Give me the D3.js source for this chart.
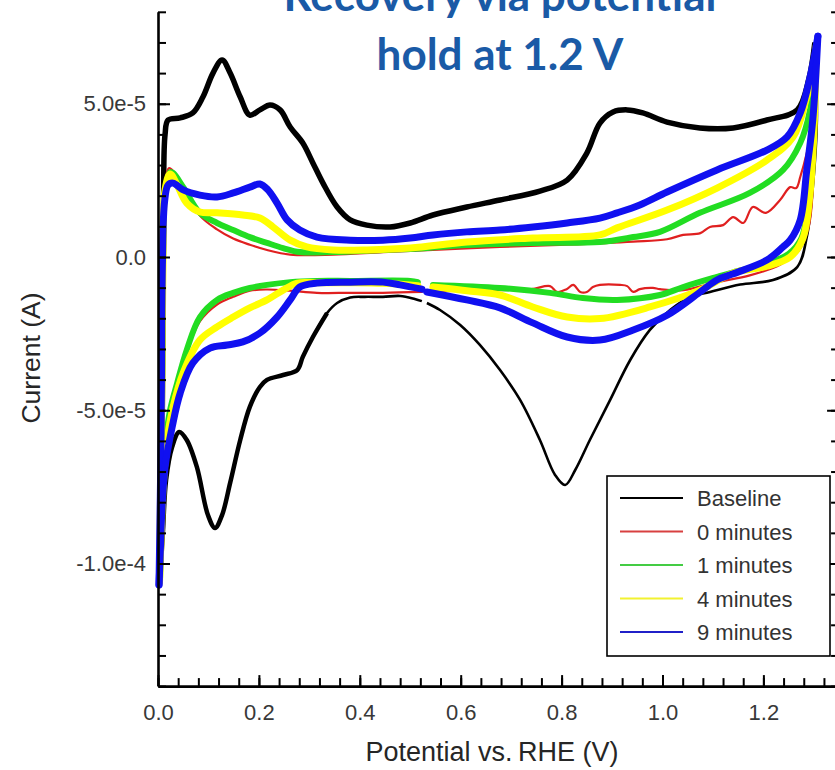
<!DOCTYPE html>
<html>
<head>
<meta charset="utf-8">
<script src="https://cdn.jsdelivr.net/npm/d3@7"></script>
<style>
  html, body { margin: 0; padding: 0; background: #fff; }
  svg { display: block; }
</style>
</head>
<body>
<svg id="chart" width="835" height="770"></svg>
<script>
// Cyclic voltammograms: potential (V vs. RHE) and current (µA).
// Each scan is stored as its anodic (forward) and cathodic (return) branch.
// A null current marks a break in the recorded trace.

const baselineAnodic = [
  [0.006,-100],[0.009,-40],[0.011,20],[0.014,40],[0.020,44.7],[0.044,45.4],[0.069,47.0],
  [0.089,52.2],[0.109,60.0],[0.127,64.3],[0.143,60.0],[0.163,52.2],[0.182,46.3],[0.202,48.0],
  [0.222,49.6],[0.242,48.0],[0.262,42.4],[0.287,37.2],[0.307,30.7],[0.327,24.1],[0.355,16.3],
  [0.381,12.1],[0.414,10.4],[0.460,9.8],[0.500,11.1],[0.545,13.7],[0.612,16.3],[0.678,18.6],
  [0.757,21.5],[0.811,25.1],[0.850,33.9],[0.876,43.7],[0.902,47.3],[0.930,48.0],[0.961,47.0],
  [1.009,44.0],[1.074,42.1],[1.140,42.1],[1.207,44.7],[1.267,48.0],[1.290,58],[1.302,70]
];
const baselineCathodic = [
  [1.302,70],[1.306,44.7],[1.298,22.8],[1.286,6.5],[1.267,-3.3],[1.219,-7.5],[1.154,-9.0],
  [1.094,-11.4],[1.055,-13.0],[1.015,-17.3],[0.975,-23.8],[0.936,-33.6],[0.896,-46.7],
  [0.856,-59.7],[0.827,-69.5],[0.807,-74.4],[0.787,-71.1],[0.757,-59.7],[0.718,-46.7],
  [0.678,-36.9],[0.638,-28.7],[0.599,-22.2],[0.559,-17.3],[0.533,-15.0],[0.528,null],
  [0.523,-14.4],[0.509,-13.7],[0.480,-12.7],[0.446,-13.0],[0.410,-13.0],[0.381,-13.2],
  [0.355,-15.0],[0.335,-18.3],[0.307,-26.1],[0.287,-32.6],[0.276,-36.9],[0.248,-38.5],
  [0.216,-40.1],[0.202,-42.4],[0.182,-48.9],[0.163,-59.7],[0.143,-73.7],[0.127,-84.2],
  [0.113,-88.4],[0.099,-84.2],[0.077,-68.5],[0.057,-59.7],[0.042,-57.1],[0.028,-62.0],
  [0.016,-72.8],[0.010,-89],[0.006,-100]
];

const min0Anodic = [
  [0.004,-107],[0.008,-40],[0.010,0],[0.014,24],[0.022,29],[0.040,26],[0.057,21],[0.083,13.5],
  [0.117,9.0],[0.149,6.0],[0.182,4.0],[0.216,2.3],[0.262,0.8],[0.347,0.8],[0.446,1.6],
  [0.545,2.3],[0.678,3.3],[0.811,4.0],[0.942,5.0],[1.009,5.8],[1.041,7.2],[1.075,7.8],
  [1.094,9.8],[1.120,10.4],[1.140,13.0],[1.160,11.1],[1.179,16.3],[1.205,14.4],[1.233,18.6],
  [1.253,22.8],[1.265,22.5],[1.273,26.1],[1.286,33.9],[1.296,42.4],[1.304,62]
];
const min0Cathodic = [
  [1.304,62],[1.300,30],[1.290,10],[1.270,2],[1.233,-2.5],[1.173,-6.0],[1.108,-8.2],
  [1.041,-10.8],[0.995,-10.5],[0.981,-10.1],[0.955,-10.5],[0.942,-11.4],[0.930,-9.5],
  [0.916,-9.1],[0.876,-9.1],[0.862,-9.8],[0.850,-11.4],[0.837,-11.4],[0.823,-9.1],
  [0.810,-10.5],[0.791,-11.4],[0.777,-9.5],[0.740,-10.5],[0.678,-10.8],[0.600,-11.0],
  [0.533,-11.4],[0.528,null],[0.523,-11.4],[0.446,-11.7],[0.381,-11.7],[0.315,-11.7],
  [0.262,-11.0],[0.216,-10.6],[0.182,-11.0],[0.149,-13.0],[0.117,-15.5],[0.083,-21],
  [0.057,-31],[0.038,-42],[0.024,-51],[0.014,-62],[0.008,-80],[0.004,-107]
];

const min1Anodic = [
  [0.004,-105],[0.008,-40],[0.010,0],[0.014,22],[0.024,27.7],[0.030,27.4],[0.050,22.8],
  [0.083,14.4],[0.117,11.1],[0.149,8.8],[0.182,6.5],[0.216,4.6],[0.248,2.9],[0.281,1.6],
  [0.347,1.6],[0.446,2.3],[0.500,2.6],[0.612,3.9],[0.743,4.6],[0.876,4.9],[0.942,6.5],
  [0.995,8.2],[1.074,14.4],[1.173,20.9],[1.239,28.4],[1.273,37.2],[1.292,47.6],[1.304,66]
];
const min1Cathodic = [
  [1.304,66],[1.299,38],[1.290,18],[1.275,6],[1.250,1],[1.200,-2.5],[1.140,-5],[1.108,-6.5],
  [1.041,-9.8],[0.995,-12.4],[0.910,-14.0],[0.842,-13.4],[0.777,-11.7],[0.678,-10.1],
  [0.545,-9.1],[0.528,null],[0.515,-8.2],[0.500,-7.8],[0.381,-7.8],[0.315,-7.8],[0.262,-8.2],
  [0.216,-9.1],[0.182,-10.1],[0.149,-11.7],[0.117,-14.0],[0.083,-19.6],[0.057,-30.3],
  [0.038,-41.1],[0.024,-49.9],[0.014,-62],[0.008,-80],[0.004,-105]
];

const min4Anodic = [
  [0.003,-106],[0.007,-50],[0.010,0],[0.014,22],[0.024,27.1],[0.038,23.5],[0.057,17.6],
  [0.083,14.7],[0.117,14.4],[0.168,13.7],[0.202,12.7],[0.228,9.8],[0.262,5.5],[0.295,3.3],
  [0.347,2.3],[0.414,2.3],[0.500,2.9],[0.612,4.9],[0.743,6.2],[0.876,7.2],[0.910,9.5],
  [1.009,15.3],[1.108,22.5],[1.207,31.6],[1.259,39.2],[1.286,52.2],[1.298,60],[1.305,69]
];
const min4Cathodic = [
  [1.305,69],[1.300,40],[1.292,20],[1.278,6],[1.253,0],[1.207,-3.0],[1.140,-5.2],
  [1.074,-10.8],[0.975,-16.3],[0.876,-20.1],[0.811,-19.6],[0.743,-16.3],[0.678,-12.4],
  [0.612,-11.0],[0.545,-9.8],[0.528,null],[0.515,-9.4],[0.446,-8.6],[0.381,-8.4],
  [0.315,-8.4],[0.276,-8.5],[0.248,-10.8],[0.216,-14.0],[0.182,-16.6],[0.149,-19.6],
  [0.117,-22.8],[0.083,-27.1],[0.050,-37.8],[0.030,-48.9],[0.018,-59.7],[0.010,-76],
  [0.006,-92],[0.003,-106]
];

const min9Anodic = [
  [0.002,-107],[0.006,-60],[0.009,0],[0.013,18],[0.020,23.5],[0.030,24.1],[0.050,21.9],
  [0.083,20.2],[0.117,19.6],[0.149,20.9],[0.182,22.8],[0.202,23.8],[0.218,21.9],[0.236,17.6],
  [0.256,12.1],[0.281,8.8],[0.315,6.5],[0.381,5.5],[0.446,5.5],[0.500,6.2],[0.545,7.2],
  [0.612,8.2],[0.678,8.8],[0.743,9.8],[0.811,11.1],[0.876,12.7],[0.910,14.4],[0.955,17.0],
  [1.009,21.2],[1.108,28.4],[1.207,34.9],[1.247,39.2],[1.273,47.0],[1.292,58.4],[1.308,72]
];
const min9Cathodic = [
  [1.308,72],[1.298,45],[1.286,28.4],[1.273,12.1],[1.253,5.5],[1.239,3.3],[1.207,-1.0],
  [1.140,-5.5],[1.108,-7.5],[1.074,-11.5],[1.009,-19.0],[0.942,-23.8],[0.876,-27.1],
  [0.811,-26.1],[0.743,-21.5],[0.678,-16.6],[0.612,-14.0],[0.533,-11.4],[0.528,null],
  [0.523,-10.5],[0.480,-9.1],[0.446,-8.2],[0.381,-8.2],[0.315,-8.5],[0.281,-9.8],
  [0.262,-14.0],[0.236,-19.6],[0.202,-24.8],[0.168,-27.7],[0.137,-28.7],[0.103,-29.7],
  [0.069,-34.6],[0.044,-44.4],[0.028,-55.5],[0.014,-68.5],[0.008,-81.6],[0.004,-98.9],
  [0.002,-107]
];

const seriesNames = ["Baseline", "0 minutes", "1 minutes", "4 minutes", "9 minutes"];
const seriesColors = ["#000000", "#e02020", "#22dd22", "#ffff00", "#1010f0"];
const legendColors = ["#000000", "#d84040", "#44cc44", "#f2f230", "#2020c8"];

const xTickLabels = ["0.0", "0.2", "0.4", "0.6", "0.8", "1.0", "1.2"];
const xMajorTicks = [0, 0.2, 0.4, 0.6, 0.8, 1.0, 1.2];
const yMajorTicks = [-1e-4, -5e-5, 0, 5e-5];
const yTickLabels = ["-1.0e-4", "-5.0e-5", "0.0", "5.0e-5"];

const titleLines = ["Recovery via potential", "hold at 1.2 V"];
const xTitle = "Potential vs.\u2009RHE (V)";
const yTitle = "Current (A)";

// ---------------------------------------------------------------
const svg = d3.select("#chart");
svg.append("rect").attr("width", 835).attr("height", 770).attr("fill", "#fff");

const x = d3.scaleLinear().domain([0, 1.35]).range([158, 158 + 1.35 * 504.5]);
const y = d3.scaleLinear().domain([-1.4e-4, 8e-5]).range([686.1, 11.8]);
const uA = 1e-6;

const line = d3.line()
  .defined(d => d[1] !== null)
  .x(d => x(d[0]))
  .y(d => y(d[1] * uA))
  .curve(d3.curveCatmullRom.alpha(0.5));

const plot = svg.append("g");

// Baseline scan: heavier forward sweep, lighter return sweep
plot.append("path").attr("d", line(baselineCathodic))
  .attr("fill", "none").attr("stroke", seriesColors[0]).attr("stroke-width", 2.6)
  .attr("stroke-linejoin", "round");
plot.append("path").attr("d", line(baselineCathodic.filter(d => d[0] <= 0.34)))
  .attr("fill", "none").attr("stroke", seriesColors[0]).attr("stroke-width", 4.5)
  .attr("stroke-linejoin", "round");
plot.append("path").attr("d", line(baselineAnodic))
  .attr("fill", "none").attr("stroke", seriesColors[0]).attr("stroke-width", 5.5)
  .attr("stroke-linejoin", "round");

const scans = [
  { a: min0Anodic, c: min0Cathodic, color: seriesColors[1], w: 2.2 },
  { a: min1Anodic, c: min1Cathodic, color: seriesColors[2], w: 6 },
  { a: min4Anodic, c: min4Cathodic, color: seriesColors[3], w: 7 },
  { a: min9Anodic, c: min9Cathodic, color: seriesColors[4], w: 7 }
];
scans.forEach(s => {
  [s.a, s.c].forEach(branch => {
    plot.append("path").attr("d", line(branch))
      .attr("fill", "none").attr("stroke", s.color).attr("stroke-width", s.w)
      .attr("stroke-linejoin", "round").attr("stroke-linecap", "round");
  });
});

// ---------------------------------------------------------------
// Axes with inward ticks
const axisColor = "#000";
const labelFont = "'Liberation Sans', Arial, sans-serif";

function styleAxis(g) {
  g.selectAll("path.domain").attr("stroke", axisColor).attr("stroke-width", 2.6);
  g.selectAll(".tick line").attr("stroke", axisColor).attr("stroke-width", 2);
  g.selectAll(".tick text").attr("fill", "#383838").attr("font-size", 22)
    .attr("font-family", labelFont);
}

const yMinor = d3.range(-14, 9).map(k => k * 1e-5);
const xMinor = d3.range(0, 34).map(k => +(k * 0.04).toFixed(2));

// left
svg.append("g").attr("transform", `translate(${x(0)},0)`)
  .call(d3.axisLeft(y).tickValues(yMinor).tickSize(-8).tickSizeOuter(0).tickFormat(""))
  .call(styleAxis);
svg.append("g").attr("transform", `translate(${x(0)},0)`)
  .call(d3.axisLeft(y).tickValues(yMajorTicks).tickSize(-12).tickSizeOuter(0).tickPadding(12)
    .tickFormat((d, i) => yTickLabels[i]))
  .call(styleAxis)
  .call(g => g.select("path.domain").remove());

// right
svg.append("g").attr("transform", `translate(${x(1.35)},0)`)
  .call(d3.axisRight(y).tickValues(yMinor).tickSize(-8).tickSizeOuter(0).tickFormat(""))
  .call(styleAxis);
svg.append("g").attr("transform", `translate(${x(1.35)},0)`)
  .call(d3.axisRight(y).tickValues(yMajorTicks).tickSize(-12).tickSizeOuter(0).tickFormat(""))
  .call(styleAxis)
  .call(g => g.select("path.domain").remove());

// bottom
svg.append("g").attr("transform", `translate(0,${y(-1.4e-4)})`)
  .call(d3.axisBottom(x).tickValues(xMinor).tickSize(-8).tickSizeOuter(0).tickFormat(""))
  .call(styleAxis);
svg.append("g").attr("transform", `translate(0,${y(-1.4e-4)})`)
  .call(d3.axisBottom(x).tickValues(xMajorTicks).tickSize(-11).tickSizeOuter(0).tickPadding(18)
    .tickFormat((d, i) => xTickLabels[i]))
  .call(styleAxis)
  .call(g => g.select("path.domain").remove());

// axis titles
svg.append("text").attr("x", 492).attr("y", 761).attr("text-anchor", "middle")
  .attr("font-family", labelFont).attr("font-size", 27).attr("fill", "#262626")
  .text(xTitle);
svg.append("text").attr("transform", "translate(40,358) rotate(-90)")
  .attr("text-anchor", "middle").attr("font-family", labelFont).attr("font-size", 26.5)
  .attr("fill", "#262626").text(yTitle);

// ---------------------------------------------------------------
// Legend
const lg = svg.append("g");
lg.append("rect").attr("x", 607).attr("y", 476).attr("width", 223).attr("height", 180)
  .attr("fill", "#fff").attr("stroke", "#000").attr("stroke-width", 1.6);
seriesNames.forEach((name, i) => {
  const cy = 498 + i * 33.5;
  lg.append("line").attr("x1", 620).attr("x2", 683).attr("y1", cy).attr("y2", cy)
    .attr("stroke", legendColors[i]).attr("stroke-width", 2.2);
  lg.append("text").attr("x", 697).attr("y", cy + 8).attr("font-family", labelFont)
    .attr("font-size", 22).attr("fill", "#333").text(name);
});

// ---------------------------------------------------------------
// Title
titleLines.forEach((t, i) => {
  svg.append("text").attr("x", 500).attr("y", 11 + i * 59).attr("text-anchor", "middle")
    .attr("font-family", "Lato, 'Open Sans', sans-serif").attr("font-weight", 700)
    .attr("font-size", 44).attr("fill", "#1a5aa6").text(t);
});
</script>
</body>
</html>
